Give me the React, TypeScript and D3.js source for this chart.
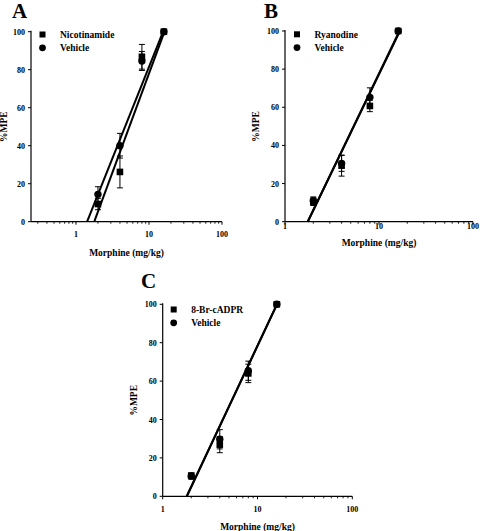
import React from "react";
import * as d3 from "d3";

const doses = [2, 4, 8, 16];

// Panel A
const nicotinamideMean = [9.3, 26.2, 86.8, 100];
const nicotinamideErr = [3, 8.4, 6.5, 0.8];
const vehicleAMean = [14.4, 40, 84.6, 100];
const vehicleAErr = [4, 6.5, 5, 0.8];
const fitNicotinamide = [[1.78, 0], [16.3, 100]];
const fitVehicleA = [[1.42, 0], [15.6, 100]];

// Panel B
const ryanodineMean = [10.5, 29.4, 60.7, 100];
const ryanodineErr = [2, 5.5, 3, 0.8];
const vehicleBMean = [11, 30.6, 65.2, 100];
const vehicleBErr = [2, 4.2, 5, 0.8];
const fitRyanodine = [[1.74, 0], [16.7, 100]];
const fitVehicleB = [[1.75, 0], [16.5, 100]];

// Panel C
const brcadprMean = [10.7, 26.9, 64, 100];
const brcadprErr = [1.5, 4.2, 4.8, 0.8];
const vehicleCMean = [10.5, 29.7, 65.4, 100];
const vehicleCErr = [1.5, 5, 5, 0.8];
const fitBrcadpr = [[1.79, 0], [16.1, 100]];
const fitVehicleC = [[1.8, 0], [16.0, 100]];

const yTicks = [0, 20, 40, 60, 80, 100];
const xMajorTicks = [1, 10, 100];

const FONT = "'Liberation Serif', 'Times New Roman', serif";

type Series = { mean: number[]; err: number[]; shape: "square" | "circle"; name: string };

type PanelProps = {
  letter: string;
  letterX: number;
  letterY: number;
  left: number;
  right: number;
  top: number;
  bottom: number;
  xMin: number;
  series: Series[];
  fits: number[][][];
  tickLabelY: number;
  xLabelY: number;
  yLabelX: number;
  legendX: number;
  legendY: number;
};

function Marker({ shape, x, y, s = 3.3 }: { shape: string; x: number; y: number; s?: number }) {
  if (shape === "square") return <rect x={x - s} y={y - s} width={2 * s} height={2 * s} fill="#000" />;
  return <circle cx={x} cy={y} r={s + 0.4} fill="#000" />;
}

function Panel(p: PanelProps) {
  const x = d3.scaleLog().domain([p.xMin, 100]).range([p.left, p.right]);
  const y = d3.scaleLinear().domain([0, 100]).range([p.bottom, p.top]);
  const minor: number[] = [];
  for (let dec = 0.1; dec < 100; dec *= 10) {
    for (let k = 1; k <= 9; k++) {
      const v = +(dec * k).toPrecision(3);
      if (v >= p.xMin && v <= 100 && !xMajorTicks.includes(v)) minor.push(v);
    }
  }
  const line = d3
    .line<number[]>()
    .x((d) => x(d[0]))
    .y((d) => y(d[1]));
  return (
    <g fontFamily={FONT} fontWeight="bold">
      <text x={p.letterX} y={p.letterY} fontSize={21}>
        {p.letter}
      </text>
      {/* axes */}
      <line x1={p.left} x2={p.left} y1={p.top - 1} y2={p.bottom} stroke="#000" strokeWidth={1.2} />
      <line x1={p.left} x2={p.right} y1={p.bottom} y2={p.bottom} stroke="#000" strokeWidth={1.2} />
      {yTicks.map((t) => (
        <g key={"y" + t}>
          <line x1={p.left - 3} x2={p.left} y1={y(t)} y2={y(t)} stroke="#000" strokeWidth={1} />
          <text x={p.left - 6} y={y(t) + 3} fontSize={8} textAnchor="end">
            {t}
          </text>
        </g>
      ))}
      {xMajorTicks.map((t) => (
        <g key={"x" + t}>
          <line x1={x(t)} x2={x(t)} y1={p.bottom} y2={p.bottom + 3} stroke="#000" strokeWidth={1} />
          <text x={x(t)} y={p.tickLabelY} fontSize={8} textAnchor="middle">
            {t}
          </text>
        </g>
      ))}
      {minor.map((t) => (
        <line key={"m" + t} x1={x(t)} x2={x(t)} y1={p.bottom} y2={p.bottom + 2} stroke="#000" strokeWidth={0.9} />
      ))}
      <text x={(p.left + p.right) / 2} y={p.xLabelY} fontSize={9.5} textAnchor="middle">
        Morphine (mg/kg)
      </text>
      <text
        transform={`translate(${p.yLabelX},${(p.top + p.bottom) / 2}) rotate(-90)`}
        fontSize={9.5}
        textAnchor="middle"
        dy="0.35em"
      >
        %MPE
      </text>
      {/* fit lines */}
      {p.fits.map((f, i) => (
        <path key={"f" + i} d={line(f) || ""} fill="none" stroke="#000" strokeWidth={2} />
      ))}
      {/* error bars + markers */}
      {p.series.map((s, si) => (
        <g key={"s" + si}>
          {doses.map((d, i) => {
            const cx = x(d);
            const y1 = y(s.mean[i] + s.err[i]);
            const y2 = y(s.mean[i] - s.err[i]);
            return (
              <g key={i}>
                <line x1={cx} x2={cx} y1={y1} y2={y2} stroke="#000" strokeWidth={1} />
                <line x1={cx - 3} x2={cx + 3} y1={y1} y2={y1} stroke="#000" strokeWidth={1} />
                <line x1={cx - 3} x2={cx + 3} y1={y2} y2={y2} stroke="#000" strokeWidth={1} />
              </g>
            );
          })}
          {doses.map((d, i) => (
            <Marker key={"mk" + i} shape={s.shape} x={x(d)} y={y(s.mean[i])} />
          ))}
        </g>
      ))}
      {/* legend */}
      {p.series.map((s, si) => (
        <g key={"l" + si}>
          <Marker shape={s.shape} x={p.legendX} y={p.legendY + si * 13.3} s={3} />
          <text x={p.legendX + 17.5} y={p.legendY + si * 13.3 + 3.3} fontSize={9.5}>
            {s.name}
          </text>
        </g>
      ))}
    </g>
  );
}

export default function App() {
  return (
    <svg
      width={480}
      height={531}
      style={{ position: "absolute", left: 0, top: 0, background: "#fff" }}
    >
      <rect width={480} height={531} fill="#fff" />
      <Panel
        letter="A"
        letterX={12}
        letterY={18}
        left={31}
        right={222}
        top={31.7}
        bottom={221.7}
        xMin={0.242}
        series={[
          { mean: nicotinamideMean, err: nicotinamideErr, shape: "square", name: "Nicotinamide" },
          { mean: vehicleAMean, err: vehicleAErr, shape: "circle", name: "Vehicle" },
        ]}
        fits={[fitNicotinamide, fitVehicleA]}
        tickLabelY={237}
        xLabelY={255.5}
        yLabelX={4}
        legendX={42.5}
        legendY={34.5}
      />
      <Panel
        letter="B"
        letterX={264}
        letterY={18}
        left={285}
        right={473}
        top={31}
        bottom={221.7}
        xMin={1}
        series={[
          { mean: ryanodineMean, err: ryanodineErr, shape: "square", name: "Ryanodine" },
          { mean: vehicleBMean, err: vehicleBErr, shape: "circle", name: "Vehicle" },
        ]}
        fits={[fitRyanodine, fitVehicleB]}
        tickLabelY={229}
        xLabelY={245.5}
        yLabelX={255.5}
        legendX={297}
        legendY={34.3}
      />
      <Panel
        letter="C"
        letterX={141}
        letterY={288}
        left={162.7}
        right={352.3}
        top={304.3}
        bottom={496.3}
        xMin={1}
        series={[
          { mean: brcadprMean, err: brcadprErr, shape: "square", name: "8-Br-cADPR" },
          { mean: vehicleCMean, err: vehicleCErr, shape: "circle", name: "Vehicle" },
        ]}
        fits={[fitBrcadpr, fitVehicleC]}
        tickLabelY={512}
        xLabelY={530}
        yLabelX={133.5}
        legendX={173.7}
        legendY={309.5}
      />
    </svg>
  );
}
